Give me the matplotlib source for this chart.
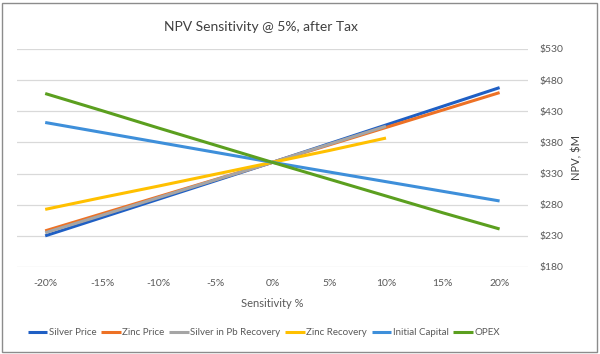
"""NPV sensitivity spider chart (after-tax NPV @ 5%), Excel-style."""

import matplotlib.pyplot as plt
from matplotlib.patches import Rectangle

plt.rcParams["font.family"] = ["Lato", "DejaVu Sans"]

sensitivity = [-20, -15, -10, -5, 0, 5, 10, 15, 20]
tick_labels = ["-20%", "-15%", "-10%", "-5%", "0%", "5%", "10%", "15%", "20%"]

silver_price = [230, 259.5, 289, 318.5, 348, 378, 408, 438, 468]
zinc_price = [238, 265.5, 293, 320.5, 348, 376, 404, 432, 460]
silver_pb_recovery = [235, 263, 291.5, 320, 348, 377, 406]
zinc_recovery = [272.5, 291.5, 310, 329, 348, 367, 387]
initial_capital = [412, 396, 380, 364, 348, 332.5, 317, 301.5, 286]
opex = [458.5, 431, 403, 375.5, 348, 321, 294, 267, 241]

series = [
    ("Silver Price", silver_price, "#1f5fc4"),
    ("Zinc Price", zinc_price, "#ed7125"),
    ("Silver in Pb Recovery", silver_pb_recovery, "#a5a5a5"),
    ("Zinc Recovery", zinc_recovery, "#ffc000"),
    ("Initial Capital", initial_capital, "#3e8fda"),
    ("OPEX", opex, "#5b9f1f"),
]

y_ticks = list(range(180, 531, 50))

fig = plt.figure(figsize=(6.0, 3.54), dpi=100)
ax = fig.add_axes([0.028, 0.2458, 0.852, 0.6158])

for name, vals, color in series:
    ax.plot(sensitivity[: len(vals)], vals, color=color, linewidth=2.2,
            label=name, solid_capstyle="butt", zorder=3)

ax.set_xlim(-22.5, 22.5)
ax.set_ylim(180, 530)
ax.set_xticks(sensitivity)
ax.set_xticklabels(tick_labels)
ax.set_yticks(y_ticks)
ax.set_yticklabels([f"${v}" for v in y_ticks])
ax.yaxis.tick_right()
ax.yaxis.set_label_position("right")
ax.tick_params(length=0, labelsize=7.5, labelcolor="#595959")
ax.tick_params(axis="x", pad=9)
ax.tick_params(axis="y", pad=8)
ax.grid(axis="y", color="#d9d9d9", linewidth=0.9, zorder=0)
for s in ax.spines.values():
    s.set_visible(False)

ax.set_xlabel("Sensitivity %", fontsize=8, color="#595959", labelpad=7)
ax.set_ylabel("NPV, $M", fontsize=8, color="#404040", labelpad=6)

fig.text(0.435, 0.925, "NPV Sensitivity @ 5%, after Tax", ha="center", va="center",
         fontsize=10, color="#404040")

fig.legend(loc="center", bbox_to_anchor=(0.44, 0.06), ncol=6, frameon=False,
           fontsize=7, handlelength=2.0, handletextpad=0.15, columnspacing=0.5,
           labelcolor="#595959")

fig.patches.append(Rectangle((0.003, 0.006), 0.992, 0.985, transform=fig.transFigure,
                             fill=False, edgecolor="#8c8c8c", linewidth=1.0))

fig.savefig("out.png", dpi=100)
